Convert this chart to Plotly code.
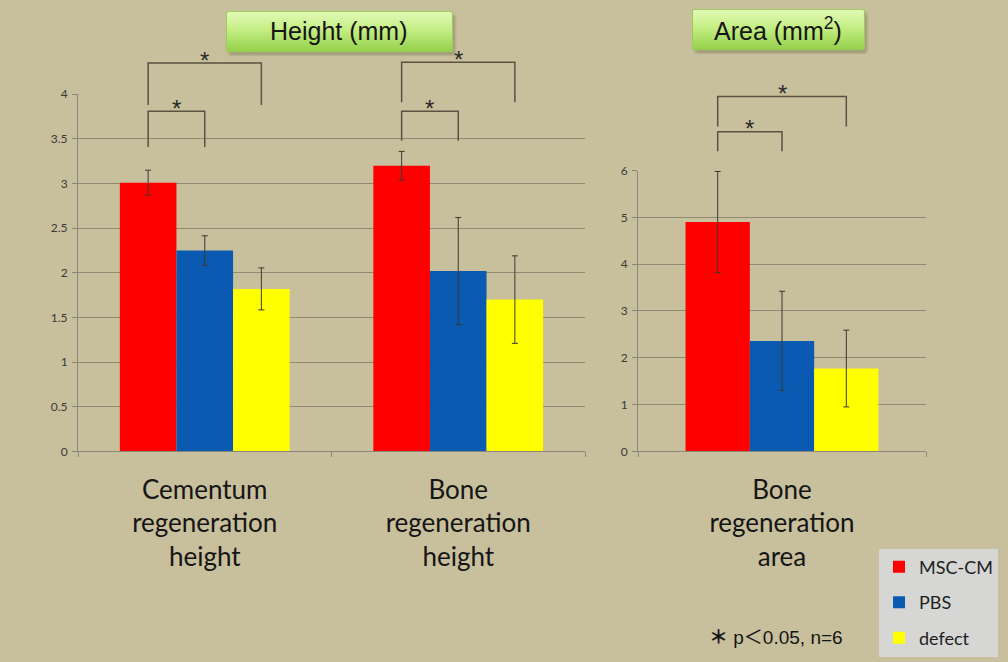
import base64
import plotly.graph_objects as go

# ---------------- data ----------------
series_names = ["MSC-CM", "PBS", "defect"]

height_categories = ["Cementum regeneration height", "Bone regeneration height"]
height_tick_labels = ["Cementum<br>regeneration<br>height", "Bone<br>regeneration<br>height"]
area_categories = ["Bone regeneration area"]
area_tick_labels = ["Bone<br>regeneration<br>area"]

msc_height = [3.01, 3.20]
msc_height_err = [0.14, 0.16]
pbs_height = [2.25, 2.02]
pbs_height_err = [0.165, 0.60]
defect_height = [1.82, 1.70]
defect_height_err = [0.235, 0.49]

msc_area = [4.90]
msc_area_err = [1.08]
pbs_area = [2.36]
pbs_area_err = [1.06]
defect_area = [1.77]
defect_area_err = [0.82]

height_ticks = [0, 0.5, 1, 1.5, 2, 2.5, 3, 3.5, 4]
area_ticks = [0, 1, 2, 3, 4, 5, 6]

# ---------------- styling ----------------
W, H = 1008, 662
# measured drawing region of the paper inside the rendered page
PAPER_TOP, PAPER_H = 9, 645
BG = "#C8BF9C"
GRID = "#8F8A74"
AXIS = "#8A877A"
COLORS = ["#FF0000", "#0B5AB2", "#FFFF00"]
ERR = "#3A3A30"
BRACKET = "#5A5242"
BARGAP = 0.33


def fx(p):
    return p / W


def fy(p):
    return 1 - (p - PAPER_TOP) / PAPER_H


fig = go.Figure()

height_vals = [msc_height, pbs_height, defect_height]
height_errs = [msc_height_err, pbs_height_err, defect_height_err]
area_vals = [msc_area, pbs_area, defect_area]
area_errs = [msc_area_err, pbs_area_err, defect_area_err]

for i, name in enumerate(series_names):
    fig.add_trace(go.Bar(
        x=height_categories, y=height_vals[i], name=name,
        marker=dict(color=COLORS[i], line=dict(width=0)),
        error_y=dict(type="data", array=height_errs[i], color=ERR, thickness=1, width=3),
        legendgroup=name, xaxis="x", yaxis="y",
    ))
for i, name in enumerate(series_names):
    fig.add_trace(go.Bar(
        x=area_categories, y=area_vals[i], name=name,
        marker=dict(color=COLORS[i], line=dict(width=0)),
        error_y=dict(type="data", array=area_errs[i], color=ERR, thickness=1, width=3),
        legendgroup=name, showlegend=False, xaxis="x2", yaxis="y2",
    ))

tick_font = dict(family="Lato, Carlito, sans-serif", size=12, color="#3A3A3A")
cat_font = dict(family="Lato, Carlito, sans-serif", size=26, color="#151515")

y_bottom = fy(451)
fig.update_layout(
    width=W, height=H,
    margin=dict(l=0, r=0, t=0, b=0),
    paper_bgcolor=BG, plot_bgcolor=BG,
    barmode="group", bargap=BARGAP, bargroupgap=0,
    showlegend=True,
    legend=dict(
        x=fx(879), y=fy(548), xanchor="left", yanchor="top",
        bgcolor="#D6D6D4", borderwidth=0,
        font=dict(family="Lato, Carlito, sans-serif", size=18, color="#1E1E1E"),
        tracegroupgap=9, itemwidth=30,
    ),
    xaxis=dict(
        domain=[fx(78), fx(585)], anchor="y",
        type="category", range=[-0.5, 1.5],
        tickvals=height_categories, ticktext=height_tick_labels,
        tickson="boundaries", ticks="outside", ticklen=5, tickcolor=AXIS,
        showline=True, linecolor=AXIS, linewidth=1,
        showgrid=False, tickfont=cat_font, ticklabelstandoff=15,
    ),
    yaxis=dict(
        domain=[y_bottom, fy(95)], anchor="x",
        range=[0, 4], tickvals=height_ticks,
        showgrid=True, gridcolor=GRID, gridwidth=1,
        showline=True, linecolor=AXIS, linewidth=1,
        ticks="outside", ticklen=5, tickcolor=AXIS,
        zeroline=False, tickfont=tick_font, ticklabelstandoff=2,
    ),
    xaxis2=dict(
        domain=[fx(638), fx(926)], anchor="y2",
        type="category", range=[-0.5, 0.5],
        tickvals=area_categories, ticktext=area_tick_labels,
        tickson="boundaries", ticks="outside", ticklen=5, tickcolor=AXIS,
        showline=True, linecolor=AXIS, linewidth=1,
        showgrid=False, tickfont=cat_font, ticklabelstandoff=15,
    ),
    yaxis2=dict(
        domain=[y_bottom, fy(171)], anchor="x2",
        range=[0, 6], tickvals=area_ticks,
        showgrid=True, gridcolor=GRID, gridwidth=1,
        showline=True, linecolor=AXIS, linewidth=1,
        ticks="outside", ticklen=5, tickcolor=AXIS,
        zeroline=False, tickfont=tick_font, ticklabelstandoff=2,
    ),
)

# ---------------- significance brackets ----------------
bw = (1 - BARGAP) / 3


def bar_center(cat_idx, series_idx):
    return cat_idx + (series_idx - 1) * bw


# (xaxis, yaxis, ymax, category index, from series, to series, leg bottom, top)
brackets = [
    ("x", "y", 4, 0, 0, 1, 3.41, 3.81),
    ("x", "y", 4, 0, 0, 2, 3.88, 4.35),
    ("x", "y", 4, 1, 0, 1, 3.48, 3.81),
    ("x", "y", 4, 1, 0, 2, 3.91, 4.36),
    ("x2", "y2", 6, 0, 0, 1, 6.41, 6.83),
    ("x2", "y2", 6, 0, 0, 2, 6.94, 7.58),
]
for xr, yr, ymax, ci, a, b, lo, hi in brackets:
    xa, xb = bar_center(ci, a), bar_center(ci, b)
    fig.add_shape(
        type="path",
        path=f"M {xa},{lo / ymax} L {xa},{hi / ymax} L {xb},{hi / ymax} L {xb},{lo / ymax}",
        xref=xr, yref=f"{yr} domain",
        line=dict(color=BRACKET, width=1.5),
    )
    fig.add_annotation(
        x=(xa + xb) / 2, y=hi / ymax, xref=xr, yref=f"{yr} domain",
        text="*", showarrow=False, yanchor="middle", yshift=3,
        font=dict(family="Liberation Sans, Arial, sans-serif", size=24, color="#2A2A2A"),
    )

# ---------------- title boxes ----------------
def box_svg(w, h):
    svg = (
        f'<svg xmlns="http://www.w3.org/2000/svg" width="{w}" height="{h}">'
        '<defs><linearGradient id="g" x1="0" y1="0" x2="0" y2="1">'
        '<stop offset="0" stop-color="#E2FAB6"/>'
        '<stop offset="0.45" stop-color="#C4EE84"/>'
        '<stop offset="1" stop-color="#94D04A"/>'
        '</linearGradient>'
        '<filter id="b"><feGaussianBlur stdDeviation="1.5"/></filter></defs>'
        f'<rect x="3" y="4" width="{w - 5}" height="{h - 5}" rx="2" fill="#6E6A50" opacity="0.45" filter="url(#b)"/>'
        f'<rect x="0.5" y="0.5" width="{w - 5}" height="{h - 5}" rx="2" fill="url(#g)" stroke="#9CCB5C" stroke-width="1"/>'
        '</svg>'
    )
    return "data:image/svg+xml;base64," + base64.b64encode(svg.encode()).decode()


title_boxes = [
    (226, 12, 231, 45, "Height (mm)"),
    (692, 10, 177, 45, "Area (mm<sup>2</sup>)"),
]
images = []
for x0, y0, w, h, text in title_boxes:
    images.append(dict(
        source=box_svg(w, h), xref="paper", yref="paper",
        x=fx(x0), y=fy(y0), sizex=w / W, sizey=h / PAPER_H,
        xanchor="left", yanchor="top", sizing="stretch", layer="above",
    ))
    fig.add_annotation(
        x=fx(x0 + (w - 5) / 2), y=fy(y0 + (h - 5) / 2), xref="paper", yref="paper",
        text=text, showarrow=False, xanchor="center", yanchor="middle",
        font=dict(family="Liberation Sans, Arial, sans-serif", size=25, color="#151515"),
    )
fig.update_layout(images=images)

# ---------------- footnote ----------------
fig.add_annotation(
    x=fx(776), y=fy(637), xref="paper", yref="paper",
    text="<b>＊</b> p＜0.05, n=6", showarrow=False, xanchor="center", yanchor="middle",
    font=dict(family="Liberation Sans, Arial, Noto Sans CJK JP, sans-serif", size=19, color="#151515"),
)

fig.write_html(
    "out.html",
    config={"displayModeBar": False},
    post_script="document.body.style.margin='0';",
)
